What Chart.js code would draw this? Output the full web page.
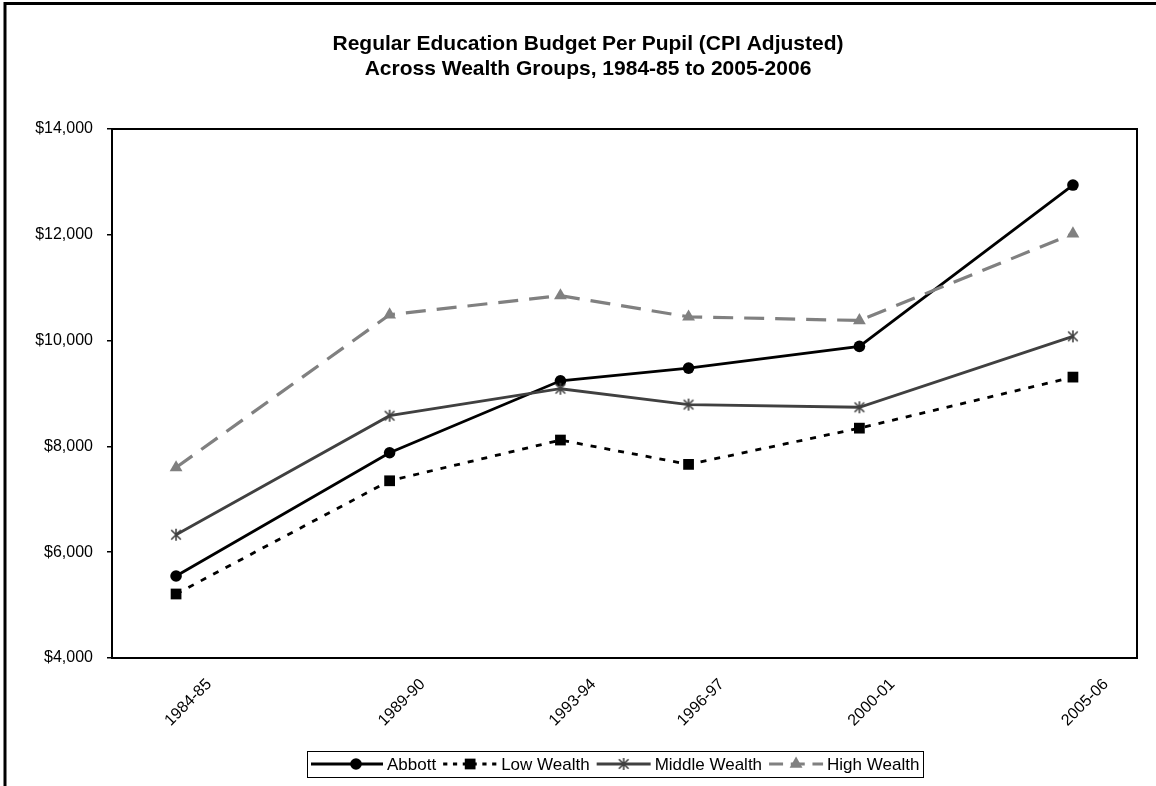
<!DOCTYPE html>
<html>
<head>
<meta charset="utf-8">
<title>Regular Education Budget Per Pupil</title>
<script src="https://cdn.jsdelivr.net/npm/chart.js@4/dist/chart.umd.min.js"></script>
<style>
  html, body { margin: 0; padding: 0; background: #ffffff; }
  #wrap { width: 1156px; height: 786px; position: relative; }
</style>
</head>
<body>
<div id="wrap"><canvas id="chart" width="1156" height="786"></canvas></div>
<script>
// School-year periods and the year each one starts (x position on the time scale)
const periodLabels = ['1984-85', '1989-90', '1993-94', '1996-97', '2000-01', '2005-06'];
const periodStartYears = [1984, 1989, 1993, 1996, 2000, 2005];

// Per-pupil regular education budget, CPI adjusted (dollars)
const abbott       = [5550, 7880, 9240, 9480, 9890, 12940];
const lowWealth    = [5210, 7350, 8120, 7660, 8345, 9310];
const middleWealth = [6330, 8580, 9090, 8790, 8740, 10080];
const highWealth   = [7600, 10490, 10850, 10450, 10380, 12020];

const seriesNames = ['Abbott', 'Low Wealth', 'Middle Wealth', 'High Wealth'];
const yTickValues = [4000, 6000, 8000, 10000, 12000, 14000];
const titleLines = [
  'Regular Education Budget Per Pupil (CPI Adjusted)',
  'Across Wealth Groups, 1984-85 to 2005-2006'
];

const FONT = "'Liberation Sans', Arial, Helvetica, sans-serif";

// Asterisk marker (X with a vertical stroke) for the middle-wealth series
function makeStar(color, size) {
  const c = document.createElement('canvas');
  c.width = size; c.height = size;
  const g = c.getContext('2d');
  g.strokeStyle = color;
  g.lineWidth = 1.6;
  const m = size / 2, r = size / 2 - 1;
  g.beginPath();
  g.moveTo(m - r * 0.8, m - r * 0.8); g.lineTo(m + r * 0.8, m + r * 0.8);
  g.moveTo(m + r * 0.8, m - r * 0.8); g.lineTo(m - r * 0.8, m + r * 0.8);
  g.moveTo(m, m - r); g.lineTo(m, m + r);
  g.stroke();
  return c;
}
const starMarker = makeStar('#404040', 14);

function toPoints(values) {
  return values.map((v, i) => ({ x: periodStartYears[i], y: v }));
}

const datasets = [
  {
    label: seriesNames[0], data: toPoints(abbott),
    borderColor: '#000000', backgroundColor: '#000000', borderWidth: 2.8,
    pointStyle: 'circle', pointRadius: 5.8, pointBackgroundColor: '#000000',
    pointBorderColor: '#000000', pointBorderWidth: 0, order: 4
  },
  {
    label: seriesNames[1], data: toPoints(lowWealth),
    borderColor: '#000000', backgroundColor: '#000000', borderWidth: 2.8,
    borderDash: [6, 8],
    pointStyle: 'rect', pointRadius: 7.6, pointBackgroundColor: '#000000',
    pointBorderColor: '#000000', pointBorderWidth: 0, order: 3
  },
  {
    label: seriesNames[2], data: toPoints(middleWealth),
    borderColor: '#404040', backgroundColor: '#404040', borderWidth: 2.8,
    pointStyle: starMarker, pointRadius: 7, pointBackgroundColor: '#404040',
    pointBorderColor: '#404040', pointBorderWidth: 0, order: 2
  },
  {
    label: seriesNames[3], data: toPoints(highWealth),
    borderColor: '#808080', backgroundColor: '#808080', borderWidth: 3.2,
    borderDash: [20, 11],
    pointStyle: 'triangle', pointRadius: 7.4, pointBackgroundColor: '#808080',
    pointBorderColor: '#808080', pointBorderWidth: 0, order: 1
  }
];

function drawMarker(ctx, ds, x, y) {
  ctx.save();
  ctx.setLineDash([]);
  if (typeof ds.pointStyle === 'object') {
    const img = ds.pointStyle;
    ctx.drawImage(img, x - img.width / 2, y - img.height / 2);
  } else {
    ctx.fillStyle = ds.pointBackgroundColor;
    ctx.strokeStyle = ds.pointBorderColor;
    Chart.helpers.drawPoint(ctx, {
      pointStyle: ds.pointStyle, rotation: 0,
      radius: ds.pointRadius, borderWidth: 0
    }, x, y);
  }
  ctx.restore();
}

// Frame, chart title and the boxed legend with line + marker samples
const decorations = {
  id: 'decorations',
  beforeDraw(chart) {
    const ctx = chart.ctx;
    ctx.save();
    ctx.fillStyle = '#ffffff';
    ctx.fillRect(0, 0, chart.width, chart.height);
    ctx.restore();
  },
  afterDatasetsDraw(chart) {
    const ctx = chart.ctx;
    const a = chart.chartArea;
    ctx.save();
    // plot-area frame
    ctx.strokeStyle = '#000000';
    ctx.lineWidth = 2;
    ctx.strokeRect(a.left, a.top, a.right - a.left, a.bottom - a.top);
    ctx.restore();
  },
  afterDraw(chart) {
    const ctx = chart.ctx;
    ctx.save();
    // outer chart border (top and left edges)
    ctx.strokeStyle = '#000000';
    ctx.lineWidth = 3;
    ctx.beginPath();
    ctx.moveTo(5, chart.height);
    ctx.lineTo(5, 3.5);
    ctx.lineTo(chart.width, 3.5);
    ctx.stroke();

    // title
    ctx.fillStyle = '#000000';
    ctx.font = 'bold 21px ' + FONT;
    ctx.textAlign = 'center';
    ctx.textBaseline = 'middle';
    ctx.fillText(titleLines[0], 588, 44);
    ctx.fillText(titleLines[1], 588, 69);

    // legend
    ctx.font = '17px ' + FONT;
    ctx.textAlign = 'left';
    const sampleW = 54, textGap = 4, itemGap = 7, padL = 4, padR = 4;
    const firstExtra = 18;
    let total = padL + firstExtra;
    chart.data.datasets.forEach((ds) => {
      total += sampleW + textGap + ctx.measureText(ds.label).width + itemGap;
    });
    total = Math.round(total - itemGap + padR);
    const cx = 615, cy = 764, boxH = 26;
    const boxL = Math.round(cx - total / 2);
    ctx.fillStyle = '#ffffff';
    ctx.fillRect(boxL, cy - boxH / 2, total, boxH);
    ctx.strokeStyle = '#000000';
    ctx.lineWidth = 1;
    ctx.strokeRect(boxL + 0.5, Math.round(cy - boxH / 2) + 0.5, total, boxH);
    let x = boxL + padL;
    chart.data.datasets.forEach((ds, i) => {
      const lineStart = x;
      const w = sampleW + (i === 0 ? firstExtra : 0);
      const lineEnd = x + w;
      const markX = lineEnd - sampleW / 2;
      ctx.save();
      ctx.strokeStyle = ds.borderColor;
      ctx.lineWidth = ds.borderWidth;
      ctx.setLineDash(ds.borderDash ? ds.borderDash.map(v => v * 0.7) : []);
      ctx.beginPath();
      ctx.moveTo(lineStart, cy);
      ctx.lineTo(lineEnd, cy);
      ctx.stroke();
      ctx.restore();
      drawMarker(ctx, ds, markX, cy);
      ctx.fillStyle = '#000000';
      ctx.textBaseline = 'middle';
      ctx.fillText(ds.label, lineEnd + textGap, cy + 1);
      x = lineEnd + textGap + ctx.measureText(ds.label).width + itemGap;
    });
    ctx.restore();
  }
};

new Chart(document.getElementById('chart'), {
  type: 'line',
  data: { datasets },
  plugins: [decorations],
  options: {
    responsive: false,
    animation: false,
    events: [],
    layout: { padding: { top: 129, right: 19, bottom: 0, left: 0 } },
    plugins: {
      legend: { display: false },
      title: { display: false },
      tooltip: { enabled: false }
    },
    elements: { line: { tension: 0, fill: false } },
    scales: {
      x: {
        type: 'linear',
        min: 1982.5,
        max: 2006.5,
        afterBuildTicks(scale) {
          scale.ticks = periodStartYears.map(v => ({ value: v }));
        },
        afterFit(scale) { scale.height = 128; },
        grid: { display: false, drawTicks: false },
        border: { display: false },
        ticks: {
          autoSkip: false,
          minRotation: 45,
          maxRotation: 45,
          labelOffset: 33,
          padding: 17,
          color: '#000000',
          font: { family: FONT, size: 16 },
          callback(value, index) { return periodLabels[index]; }
        }
      },
      y: {
        type: 'linear',
        min: yTickValues[0],
        max: yTickValues[yTickValues.length - 1],
        afterBuildTicks(scale) {
          scale.ticks = yTickValues.map(v => ({ value: v }));
        },
        afterFit(scale) { scale.width = 112; },
        grid: {
          drawOnChartArea: false,
          drawTicks: true,
          tickLength: 5,
          color: '#000000',
          lineWidth: 1.5
        },
        border: { display: false },
        ticks: {
          padding: 14,
          color: '#000000',
          font: { family: FONT, size: 16 },
          callback(value) { return '$' + value.toLocaleString('en-US'); }
        }
      }
    }
  }
});
</script>
</body>
</html>
